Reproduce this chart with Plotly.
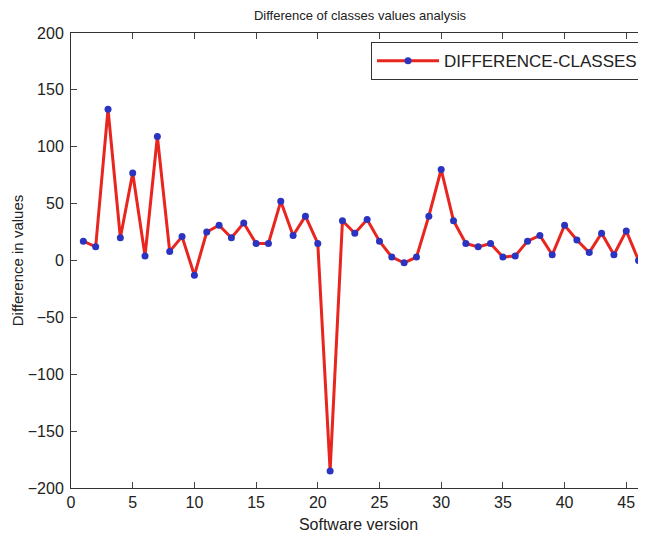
import plotly.graph_objects as go

versions = list(range(1, 47))
differences = [17, 12, 133, 20, 77, 4, 109, 8, 21, -13,
               25, 31, 20, 33, 15, 15, 52, 22, 39, 15,
               -185, 35, 24, 36, 17, 3, -2, 3, 39, 80,
               35, 15, 12, 15, 3, 4, 17, 22, 5, 31,
               18, 7, 24, 5, 26, 0]
x_ticks = [0, 5, 10, 15, 20, 25, 30, 35, 40, 45]
y_ticks = [-200, -150, -100, -50, 0, 50, 100, 150, 200]

# the page body adds an 8px offset; the figure is sized to fill the rest
W, H, OFF = 638, 533, 8

fig = go.Figure()
fig.add_trace(go.Scatter(
    x=versions, y=differences, mode="lines+markers",
    name="DIFFERENCE-CLASSES",
    line=dict(color="#e8251f", width=3),
    marker=dict(color="#2b34c0", size=7),
    cliponaxis=False,
))

font_family = "Liberation Sans, Arial, sans-serif"
fig.update_layout(
    width=W, height=H,
    margin=dict(l=71 - OFF, r=0, t=33 - OFF, b=H - (488 - OFF)),
    paper_bgcolor="white", plot_bgcolor="white",
    font=dict(family=font_family, color="#222"),
    title=dict(text="Difference of classes values analysis",
               x=(360 - OFF) / W, xanchor="center", y=1 - 3 / H, yanchor="top",
               font=dict(size=13, color="#222")),
    showlegend=True,
    legend=dict(x=0.9948, xanchor="right", y=0.98, yanchor="top",
                bordercolor="#333", borderwidth=1, bgcolor="white",
                itemwidth=62,
                font=dict(size=17, color="#222")),
    xaxis=dict(range=[0, 46.6], tickvals=x_ticks, ticks="inside", ticklen=6,
               showline=True, linecolor="#333", linewidth=1, mirror="ticks",
               showgrid=False, zeroline=False, tickfont=dict(size=16),
               automargin=False,
               title=dict(text="Software version", font=dict(size=16), standoff=8)),
    yaxis=dict(range=[-200, 200], tickvals=y_ticks, ticks="inside", ticklen=6,
               showline=True, linecolor="#333", linewidth=1, mirror="ticks",
               showgrid=False, zeroline=False, tickfont=dict(size=16),
               ticklabelstandoff=3, automargin=False,
               title=dict(text="Difference in values", font=dict(size=15), standoff=0)),
)
fig.write_html("out.html")
